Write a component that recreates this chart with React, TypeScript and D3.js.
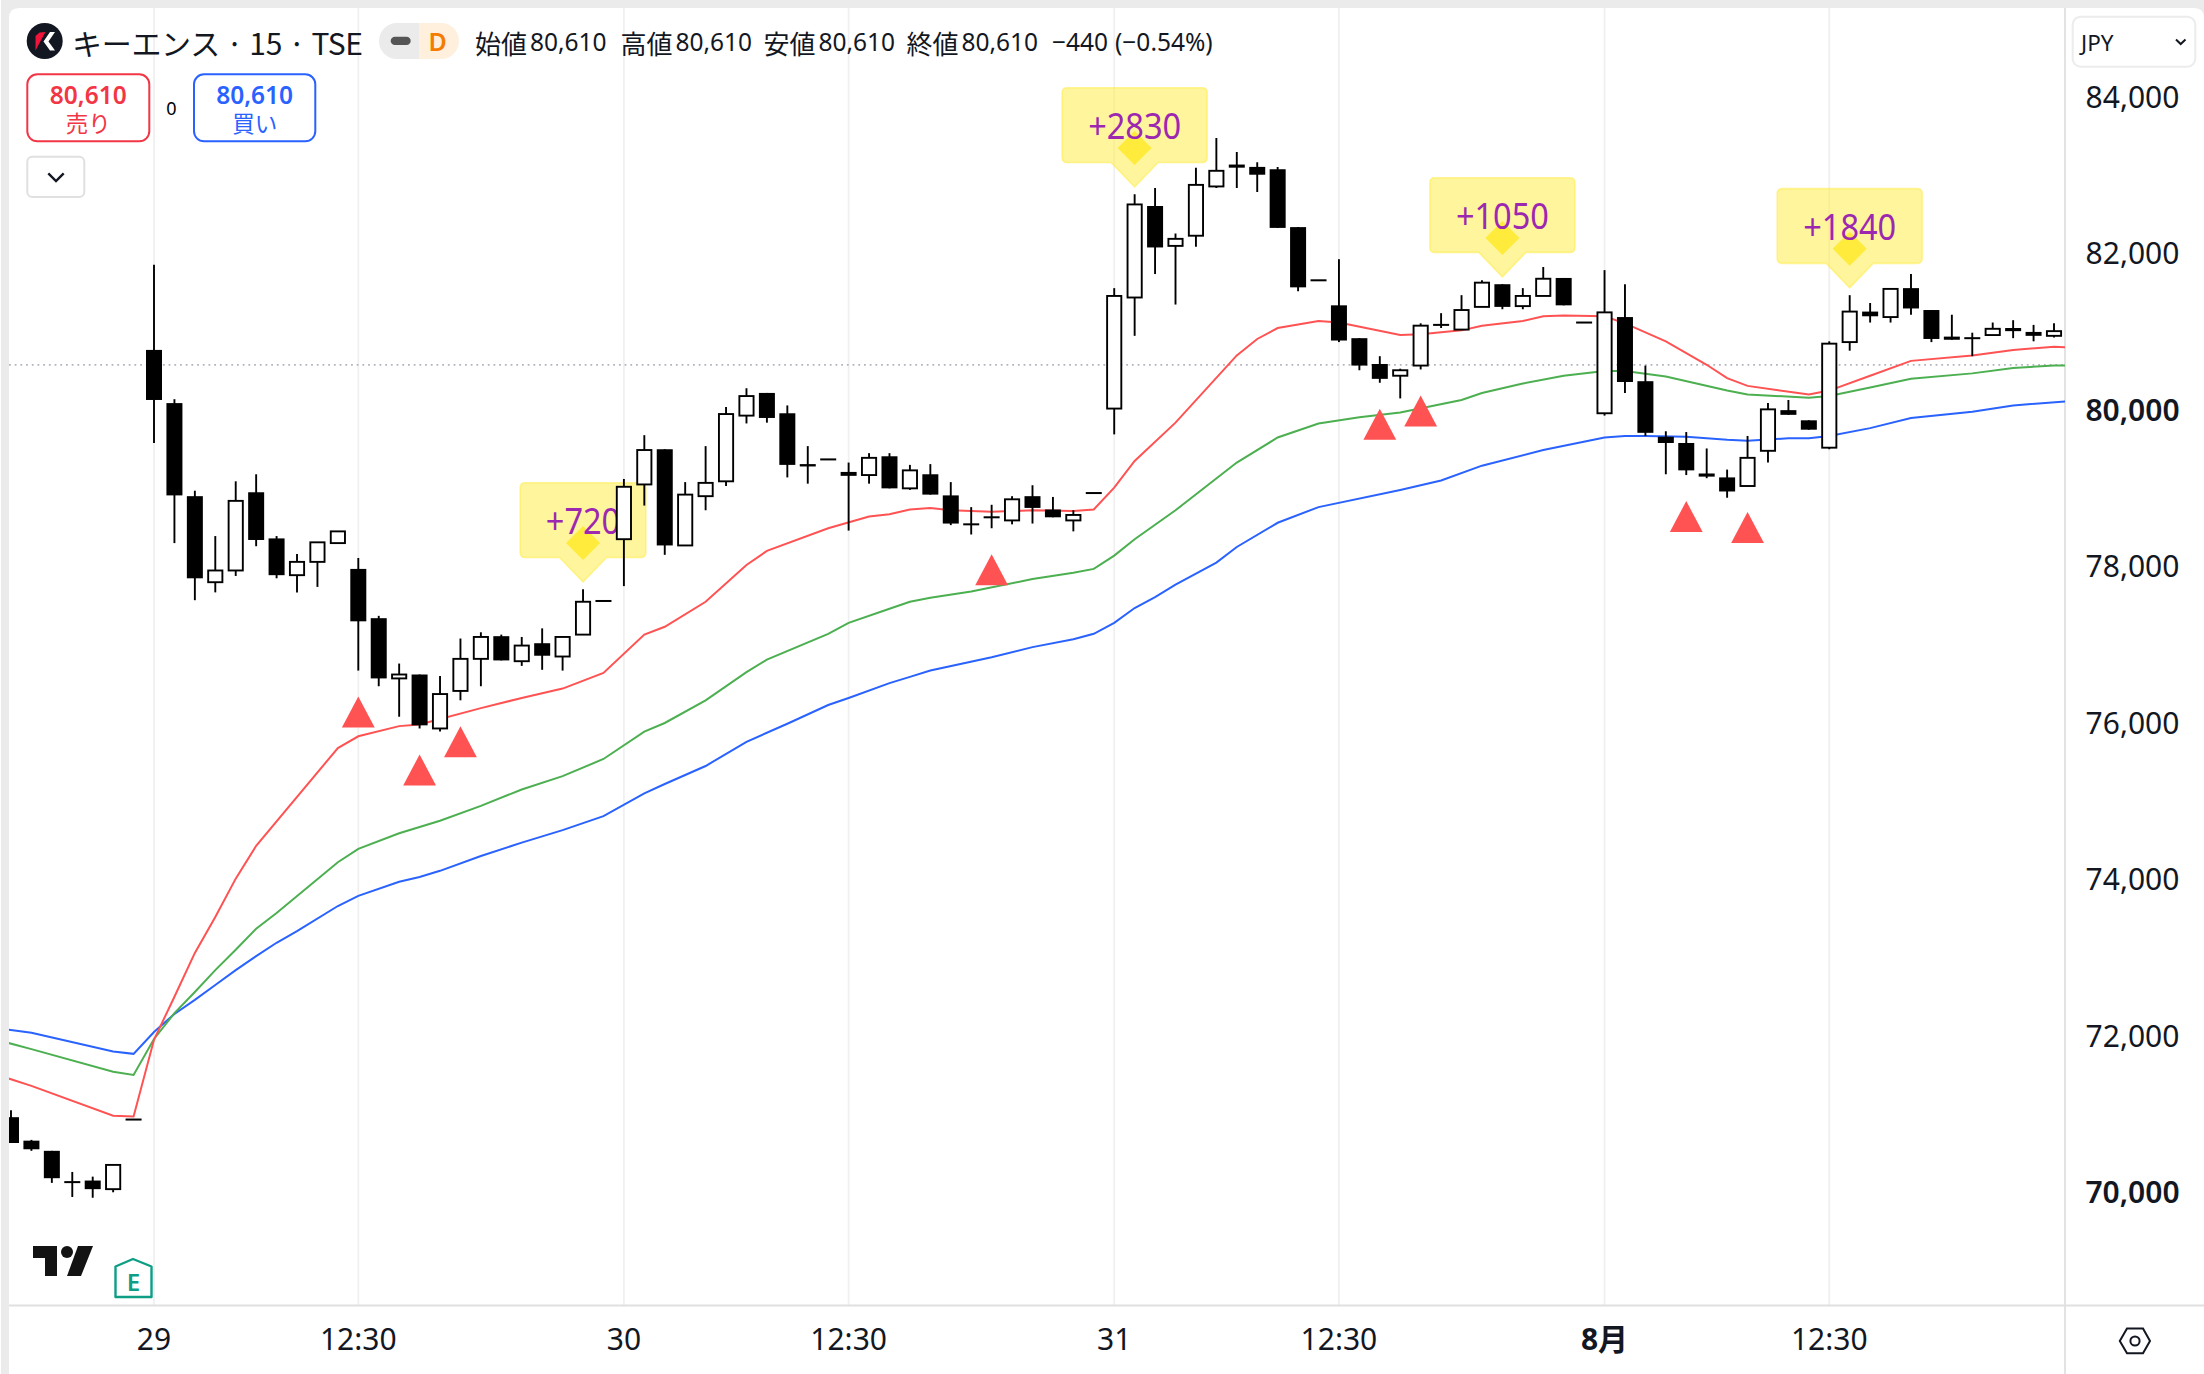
import React, { useEffect, useRef } from 'react';
import * as d3 from 'd3';

const WIDTH = 2204;
const HEIGHT = 1374;
const FONT = "'Noto Sans', 'Noto Sans CJK JP', sans-serif";
const CJK = "'Noto Sans CJK JP', 'Noto Sans', sans-serif";

// first bar of the arrays below sits at this index (bar 0 = first bar of the 29th)
const firstBar = -7;

const barOpen = [
    70950, 70650, 70520, 70120, 70140, 70030, 70920,
    80760, 80080, 78890, 77790, 77940, 78940, 78350, 77880, 78050, 78290,
    77960, 77330, 76560, 76610, 75920, 76400, 76810, 77100, 76780, 77010,
    76840, 77120, 77550, 78340, 79040, 79490, 78260, 78890, 79080, 79920,
    80210, 79950, 79300, 79360, 79200, 79160, 79400, 78990, 79170, 78900,
    78530, 78620, 78580, 78890, 78720, 78580, 78930, 80010, 81430, 82600,
    82090, 82220, 82850, 83130, 83100, 83070, 82330, 81650, 81330, 80910,
    80580, 80430, 80560, 81080, 81020, 81310, 81600, 81320, 81450, 81680,
    81110, 79950, 81180, 80360, 79650, 79570, 79180, 79130, 79020, 79470,
    79990, 79860, 79510, 80860, 81250, 81180, 81550, 81270, 80930, 80910,
    80950, 81040, 80990, 80940,
];
const barHigh = [
    71040, 70660, 70520, 70250, 70190, 70340, 70920,
    81850, 80130, 78960, 78380, 79080, 79170, 78380, 78150, 78300, 78440,
    78100, 77360, 76750, 76610, 76590, 77070, 77150, 77120, 77090, 77200,
    77090, 77700, 77550, 79110, 79670, 79490, 79070, 79530, 80030, 80270,
    80210, 80050, 79530, 79360, 79320, 79440, 79440, 79290, 79300, 79070,
    78750, 78780, 78890, 79030, 78880, 78710, 78930, 81550, 82750, 82830,
    82250, 83090, 83470, 83290, 83160, 83100, 82330, 81650, 81920, 80910,
    80680, 80520, 81100, 81230, 81460, 81650, 81600, 81550, 81820, 81680,
    81110, 81780, 81600, 80560, 79720, 79710, 79500, 79230, 79660, 80080,
    80120, 79860, 80870, 81460, 81360, 81540, 81730, 81270, 81210, 80980,
    81110, 81140, 81080, 81100,
];
const barLow = [
    70620, 70520, 70110, 69930, 69920, 69990, 70920,
    79570, 78290, 77560, 77660, 77870, 78250, 77840, 77660, 77730, 78290,
    76660, 76460, 76070, 75920, 75880, 76280, 76460, 76790, 76720, 76670,
    76660, 77120, 77550, 77740, 78770, 78140, 78260, 78710, 79020, 79820,
    79830, 79130, 79050, 79360, 78450, 79050, 78990, 78970, 78910, 78520,
    78400, 78480, 78530, 78540, 78620, 78440, 78930, 79680, 80940, 81730,
    81340, 82080, 82830, 82830, 82780, 82320, 81510, 81650, 80860, 80500,
    80340, 80140, 80510, 81040, 81020, 81310, 81280, 81280, 81450, 81330,
    81110, 79920, 80210, 79660, 79170, 79160, 79120, 78870, 79020, 79320,
    79930, 79740, 79490, 80750, 81110, 81110, 81210, 80860, 80890, 80680,
    80950, 80910, 80870, 80920,
];
const barClose = [
    70620, 70540, 70170, 70120, 70030, 70340, 70920,
    80120, 78900, 77840, 77940, 78830, 78330, 77880, 78050, 78300, 78440,
    77290, 76560, 76610, 75960, 76360, 76810, 77090, 76790, 76980, 76850,
    77090, 77540, 77550, 79010, 79480, 78260, 78910, 79060, 79940, 80170,
    79890, 79290, 79270, 79360, 79150, 79380, 78990, 79220, 78910, 78540,
    78530, 78620, 78850, 78740, 78620, 78650, 78930, 81450, 82620, 82070,
    82180, 82870, 83050, 83090, 83000, 82320, 81560, 81650, 80880, 80560,
    80390, 80500, 81070, 81080, 81270, 81620, 81310, 81450, 81670, 81330,
    81110, 81240, 80350, 79700, 79570, 79220, 79140, 78950, 79380, 80000,
    79930, 79740, 80840, 81250, 81190, 81540, 81290, 80900, 80890, 80910,
    81030, 81000, 80940, 81000,
];

// moving average lines: bar index of each vertex + value
const redBars = [-8, -6, -2, -1, 0, 1, 2, 3, 4, 5, 9, 10, 12, 13, 16, 18, 20, 22, 24, 25, 27, 29, 30, 33, 35, 36, 37, 38, 39, 41, 43, 45, 46, 47, 48, 50, 53, 54, 55, 57, 58, 61, 62, 64, 65, 67, 68, 69, 71, 72, 74, 76, 77, 78, 81, 82, 84, 86, 89, 91, 93, 94];
const redValues = [71520, 71350, 70970, 70960, 71940, 72490, 73050, 73510, 74000, 74420, 75670, 75820, 75950, 75970, 76180, 76310, 76430, 76630, 77120, 77220, 77540, 78010, 78190, 78480, 78630, 78660, 78720, 78740, 78710, 78690, 78710, 78700, 78720, 79000, 79340, 79830, 80690, 80900, 81040, 81130, 81110, 80950, 80960, 81010, 81070, 81130, 81190, 81200, 81190, 81100, 80870, 80570, 80400, 80300, 80190, 80240, 80430, 80620, 80690, 80760, 80800, 80790];
const greenBars = [-8, -6, -2, -1, 0, 1, 2, 3, 4, 5, 6, 9, 10, 12, 13, 14, 16, 18, 20, 22, 24, 25, 27, 29, 30, 33, 34, 36, 37, 38, 40, 43, 45, 46, 47, 48, 50, 53, 55, 57, 59, 61, 64, 65, 67, 69, 71, 72, 74, 77, 78, 81, 82, 84, 86, 89, 91, 93, 94];
const greenValues = [71960, 71820, 71530, 71490, 71950, 72280, 72550, 72830, 73090, 73360, 73560, 74210, 74380, 74580, 74660, 74740, 74930, 75140, 75310, 75530, 75880, 75990, 76280, 76640, 76800, 77130, 77270, 77450, 77540, 77590, 77670, 77830, 77910, 77960, 78130, 78340, 78710, 79320, 79640, 79820, 79900, 79960, 80120, 80210, 80330, 80430, 80490, 80490, 80420, 80240, 80190, 80150, 80170, 80280, 80390, 80460, 80530, 80560, 80560];
const blueBars = [-8, -6, -2, -1, 0, 1, 2, 3, 4, 5, 6, 7, 9, 10, 12, 13, 14, 16, 18, 20, 22, 24, 25, 27, 29, 31, 33, 34, 36, 37, 38, 41, 43, 45, 46, 47, 48, 49, 50, 52, 53, 55, 57, 61, 63, 65, 68, 71, 72, 73, 75, 77, 78, 80, 81, 82, 84, 86, 89, 91, 94];
const blueValues = [72100, 72030, 71790, 71760, 72040, 72270, 72450, 72640, 72830, 73010, 73180, 73330, 73650, 73780, 73960, 74020, 74100, 74290, 74460, 74620, 74800, 75090, 75210, 75440, 75750, 75980, 76220, 76310, 76500, 76580, 76660, 76830, 76960, 77060, 77130, 77270, 77460, 77600, 77760, 78040, 78240, 78550, 78750, 78970, 79090, 79280, 79480, 79640, 79660, 79660, 79650, 79610, 79600, 79630, 79630, 79660, 79760, 79890, 79970, 80050, 80110];

const triangleBars = [10, 13, 15, 41, 60, 62, 75, 78];
const profitBars = [21, 48, 66, 83];
const profitLabels = ["+720", "+2830", "+1050", "+1840"];

const priceTicks = [84000, 82000, 80000, 78000, 76000, 74000, 72000, 70000];
const boldPrices = [80000, 70000];
const timeTickBars = [0, 10, 23, 34, 47, 58, 71, 82];
const timeTickLabels = ["29", "12:30", "30", "12:30", "31", "12:30", "8月", "12:30"];
const boldTimes = ["8月"];
const lastLine = 80570;

const legendNames = ["始値", "高値", "安値", "終値"];
const legendValue = "80,610";
const legendStarts = [475, 620.5, 763.5, 906.5];

const App: React.FC = () => {
    const svgRef = useRef<SVGSVGElement | null>(null);

    useEffect(() => {
        if (!svgRef.current) return;
        const svg = d3.select(svgRef.current);
        svg.selectAll("*").remove();

        const panelRight = 2065;
        const panelBottom = 1305.5;

        const xScale = d3.scaleLinear().domain([0, 93]).range([154, 2054]);
        const yScale = d3.scaleLinear().domain([70000, 84000]).range([1191.5, 96.5]);

        // page background and rounded panel
        svg.append("rect").attr("width", WIDTH).attr("height", HEIGHT).attr("fill", "#ebebeb");
        svg.append("rect").attr("x", 0).attr("width", 1).attr("height", HEIGHT).attr("fill", "#ffffff");
        svg.append("path")
            .attr("d", `M9,1374 V18 Q9,8 19,8 H2194 Q2204,8 2204,18 V1374 Z`)
            .attr("fill", "#ffffff");

        const defs = svg.append("defs");
        defs.append("clipPath").attr("id", "pane")
            .append("rect").attr("x", 9).attr("y", 8).attr("width", panelRight - 9).attr("height", panelBottom - 8);

        // vertical grid
        svg.append("g").selectAll("line").data(timeTickBars).join("line")
            .attr("x1", d => xScale(d)).attr("x2", d => xScale(d))
            .attr("y1", 8).attr("y2", panelBottom)
            .attr("stroke", "#f0f0f0").attr("stroke-width", 1.8);

        // dotted last price line
        svg.append("line")
            .attr("x1", 9).attr("x2", panelRight)
            .attr("y1", yScale(lastLine)).attr("y2", yScale(lastLine))
            .attr("stroke", "#b2b5be").attr("stroke-width", 1.8)
            .attr("stroke-dasharray", "1.8 3.9");

        // axis separators
        svg.append("line").attr("x1", 9).attr("x2", WIDTH).attr("y1", panelBottom).attr("y2", panelBottom)
            .attr("stroke", "#e0e0e0").attr("stroke-width", 1.8);
        svg.append("line").attr("x1", panelRight).attr("x2", panelRight).attr("y1", 8).attr("y2", HEIGHT)
            .attr("stroke", "#e0e0e0").attr("stroke-width", 1.8);

        const pane = svg.append("g").attr("clip-path", "url(#pane)");

        // profit callouts go under the candles
        const callouts = pane.append("g");
        profitBars.forEach((bar, i) => {
            const cx = xScale(bar);
            const tip = yScale(barHigh[bar - firstBar]) - 7.3;
            const boxW = 48 + profitLabels[i].length * 19.4;
            const bottom = tip - 24.5;
            const top = bottom - 74.7;
            const r = 5;
            const d = `M${cx - boxW / 2 + r},${top} H${cx + boxW / 2 - r} Q${cx + boxW / 2},${top} ${cx + boxW / 2},${top + r}
                V${bottom - r} Q${cx + boxW / 2},${bottom} ${cx + boxW / 2 - r},${bottom}
                H${cx + 23.5} L${cx},${tip} L${cx - 23.5},${bottom}
                H${cx - boxW / 2 + r} Q${cx - boxW / 2},${bottom} ${cx - boxW / 2},${bottom - r}
                V${top + r} Q${cx - boxW / 2},${top} ${cx - boxW / 2 + r},${top} Z`;
            callouts.append("path").attr("d", d)
                .attr("fill", "rgba(255,235,59,0.5)")
                .attr("stroke", "rgba(255,235,59,0.5)").attr("stroke-width", 1.6);
            const dy = tip - 39;
            callouts.append("path")
                .attr("d", `M${cx},${dy - 17} L${cx + 17},${dy} L${cx},${dy + 17} L${cx - 17},${dy} Z`)
                .attr("fill", "#ffeb3b");
            callouts.append("text")
                .attr("x", cx).attr("y", tip - 61.5)
                .attr("text-anchor", "middle").attr("dominant-baseline", "central")
                .attr("font-family", FONT).attr("font-size", 36).attr("fill", "#9c27b0")
                .attr("textLength", profitLabels[i].length * 18.6)
                .attr("lengthAdjust", "spacingAndGlyphs")
                .text(profitLabels[i]);
        });

        // moving averages
        const line = d3.line<[number, number]>()
            .x(d => xScale(d[0]))
            .y(d => yScale(d[1]));
        const series: [number[], number[], string][] = [
            [blueBars, blueValues, "#2962ff"],
            [greenBars, greenValues, "#4caf50"],
            [redBars, redValues, "#ff5252"],
        ];
        series.forEach(([bars, values, color]) => {
            pane.append("path")
                .datum(d3.zip(bars, values) as [number, number][])
                .attr("d", line)
                .attr("fill", "none")
                .attr("stroke", color)
                .attr("stroke-width", 2);
        });

        // candles
        const candles = pane.append("g");
        barOpen.forEach((open, i) => {
            const x = xScale(i + firstBar);
            const close = barClose[i];
            const top = yScale(Math.max(open, close));
            const bot = yScale(Math.min(open, close));
            candles.append("line")
                .attr("x1", x).attr("x2", x)
                .attr("y1", yScale(barHigh[i])).attr("y2", yScale(barLow[i]))
                .attr("stroke", "#000").attr("stroke-width", 1.9);
            if (close > open) {
                candles.append("rect")
                    .attr("x", x - 7.1).attr("width", 14.2)
                    .attr("y", top).attr("height", Math.max(bot - top, 1.6))
                    .attr("fill", "#fff").attr("stroke", "#000").attr("stroke-width", 1.9);
            } else {
                const h = Math.max(bot - top, 2);
                candles.append("rect")
                    .attr("x", x - 8).attr("width", 16)
                    .attr("y", top - (bot - top < 2 ? 1 : 0)).attr("height", h)
                    .attr("fill", "#000");
            }
        });

        // red triangles under the low of a bar
        pane.append("g").selectAll("path").data(triangleBars).join("path")
            .attr("d", d => {
                const x = xScale(d);
                const y = yScale(barLow[d - firstBar]) + 26;
                return `M${x},${y} L${x + 16.4},${y + 31} L${x - 16.4},${y + 31} Z`;
            })
            .attr("fill", "#ff5252");

        // price axis
        svg.append("g").selectAll("text").data(priceTicks).join("text")
            .attr("x", 2132.5).attr("y", d => yScale(d))
            .attr("text-anchor", "middle").attr("dominant-baseline", "central")
            .attr("font-family", FONT).attr("font-size", 30).attr("fill", "#131722")
            .attr("font-weight", d => boldPrices.includes(d) ? 600 : 400)
            .text(d => d3.format(",")(d));

        // time axis
        svg.append("g").selectAll("text").data(timeTickBars).join("text")
            .attr("x", d => xScale(d)).attr("y", 1338)
            .attr("text-anchor", "middle").attr("dominant-baseline", "central")
            .attr("font-family", FONT).attr("font-size", 30).attr("fill", "#131722")
            .attr("font-weight", (_, i) => boldTimes.includes(timeTickLabels[i]) ? 700 : 400)
            .text((_, i) => timeTickLabels[i]);

        // header
        const header = svg.append("g");
        header.append("circle").attr("cx", 44.7).attr("cy", 41).attr("r", 18).attr("fill", "#131722");
        header.append("path").attr("d", "M35.5,50.5 V36 L39.5,32.5 L45.5,32 L40,42 Z").attr("fill", "#f0143c");
        header.append("path").attr("d", "M50,32 H55 L48.5,41.5 L55,50.5 H50 L43.5,41.5 Z").attr("fill", "#ffffff");
        header.append("text")
            .attr("x", 72).attr("y", 42).attr("dominant-baseline", "central")
            .attr("font-family", CJK).attr("font-size", 30).attr("fill", "#131722")
            .attr("textLength", 291).attr("lengthAdjust", "spacing")
            .text("キーエンス · 15 · TSE");

        // market status pill
        header.append("path").attr("d", "M419,23 H397 A18,18 0 0 0 397,59 H419 Z").attr("fill", "#ebebeb");
        header.append("path").attr("d", "M419,23 H441 A18,18 0 0 1 441,59 H419 Z").attr("fill", "#fff0dd");
        header.append("rect").attr("x", 390.7).attr("y", 36.7).attr("width", 20).attr("height", 8.4).attr("rx", 4.2).attr("fill", "#555555");
        header.append("text")
            .attr("x", 437.7).attr("y", 41).attr("text-anchor", "middle").attr("dominant-baseline", "central")
            .attr("font-family", FONT).attr("font-size", 25).attr("font-weight", 600).attr("fill", "#f57c00")
            .text("D");

        // OHLC legend
        legendNames.forEach((name, i) => {
            header.append("text")
                .attr("x", legendStarts[i]).attr("y", 42).attr("dominant-baseline", "central")
                .attr("font-family", CJK).attr("font-size", 26).attr("fill", "#131722")
                .text(name);
            header.append("text")
                .attr("x", legendStarts[i] + 55).attr("y", 41).attr("dominant-baseline", "central")
                .attr("font-family", FONT).attr("font-size", 24.5).attr("fill", "#131722")
                .text(legendValue);
        });
        header.append("text")
            .attr("x", 1052).attr("y", 41).attr("dominant-baseline", "central")
            .attr("font-family", FONT).attr("font-size", 24.5).attr("fill", "#131722")
            .text("−440");
        header.append("text")
            .attr("x", 1115).attr("y", 41).attr("dominant-baseline", "central")
            .attr("font-family", FONT).attr("font-size", 24.5).attr("fill", "#131722")
            .text("(−0.54%)");

        // sell / buy buttons
        const buttons: [number, number, string, string][] = [
            [27.3, 122, "#f23645", "売り"],
            [194, 121.3, "#2962ff", "買い"],
        ];
        buttons.forEach(([x, w, color, label]) => {
            header.append("rect")
                .attr("x", x).attr("y", 74.3).attr("width", w).attr("height", 67).attr("rx", 10)
                .attr("fill", "#ffffff").attr("stroke", color).attr("stroke-width", 2);
            header.append("text")
                .attr("x", x + w / 2).attr("y", 94.5).attr("text-anchor", "middle").attr("dominant-baseline", "central")
                .attr("font-family", FONT).attr("font-size", 24.5).attr("font-weight", 600).attr("fill", color)
                .text(legendValue);
            header.append("text")
                .attr("x", x + w / 2).attr("y", 121.5).attr("text-anchor", "middle").attr("dominant-baseline", "central")
                .attr("font-family", CJK).attr("font-size", 22.5).attr("fill", color)
                .text(label);
        });
        header.append("text")
            .attr("x", 171.5).attr("y", 108).attr("text-anchor", "middle").attr("dominant-baseline", "central")
            .attr("font-family", FONT).attr("font-size", 18).attr("fill", "#000")
            .text("0");

        // collapse button
        header.append("rect")
            .attr("x", 27.3).attr("y", 156.7).attr("width", 57).attr("height", 40.3).attr("rx", 5)
            .attr("fill", "#ffffff").attr("stroke", "#e0e0e0").attr("stroke-width", 2);
        header.append("path").attr("d", "M48.3,173.3 L56,181 L63.7,173.3")
            .attr("fill", "none").attr("stroke", "#131722").attr("stroke-width", 2.4);

        // currency button
        header.append("rect")
            .attr("x", 2072.7).attr("y", 16.7).attr("width", 122.6).attr("height", 50).attr("rx", 8)
            .attr("fill", "#ffffff").attr("stroke", "#ececec").attr("stroke-width", 2);
        header.append("text")
            .attr("x", 2081).attr("y", 42).attr("dominant-baseline", "central")
            .attr("font-family", FONT).attr("font-size", 22.5).attr("fill", "#131722")
            .text("JPY");
        header.append("path").attr("d", "M2176,39.5 L2180.7,44 L2185.5,39.5")
            .attr("fill", "none").attr("stroke", "#131722").attr("stroke-width", 2);

        // TradingView logo
        header.append("path").attr("d", "M33,1246 H57 V1276 H45 V1258 H33 Z").attr("fill", "#131313");
        header.append("circle").attr("cx", 67).attr("cy", 1252).attr("r", 6).attr("fill", "#131313");
        header.append("path").attr("d", "M78,1246 H93 L81,1276 H67 Z").attr("fill", "#131313");

        // earnings badge
        header.append("path")
            .attr("d", "M115.5,1266.5 L133,1259 L151.5,1266.5 V1297 H115.5 Z")
            .attr("fill", "#ffffff").attr("stroke", "#0d9e85").attr("stroke-width", 2.4).attr("stroke-linejoin", "round");
        header.append("text")
            .attr("x", 133.5).attr("y", 1281.5).attr("text-anchor", "middle").attr("dominant-baseline", "central")
            .attr("font-family", FONT).attr("font-size", 24).attr("font-weight", 600).attr("fill", "#0d9e85")
            .text("E");

        // settings hexagon
        header.append("path")
            .attr("d", "M2119.8,1341 L2127,1328.5 H2143 L2150,1341 L2143,1353.3 H2127 Z")
            .attr("fill", "none").attr("stroke", "#131722").attr("stroke-width", 2);
        header.append("circle").attr("cx", 2135).attr("cy", 1341).attr("r", 4.6)
            .attr("fill", "none").attr("stroke", "#131722").attr("stroke-width", 2);
    }, []);

    return (
        <svg
            ref={svgRef}
            width={WIDTH}
            height={HEIGHT}
            style={{ position: 'absolute', left: 0, top: 0, display: 'block' }}
        ></svg>
    );
};

export default App;
